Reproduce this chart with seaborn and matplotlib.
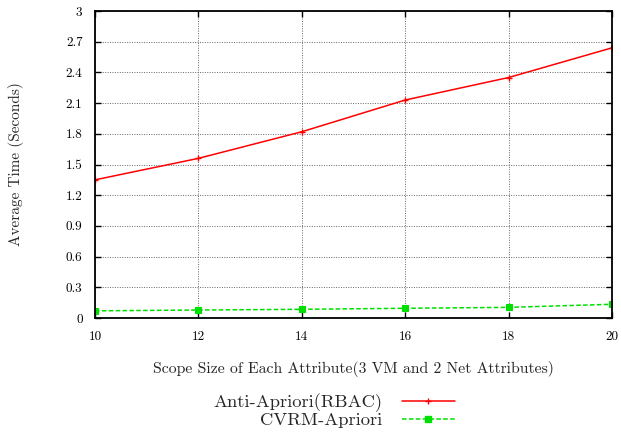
import matplotlib
matplotlib.use("Agg")
import matplotlib.pyplot as plt
import seaborn as sns
from matplotlib.lines import Line2D

scope_sizes = [10, 12, 14, 16, 18, 20]
anti_apriori = [1.35, 1.56, 1.82, 2.13, 2.35, 2.64]
cvrm_apriori = [0.07, 0.078, 0.085, 0.095, 0.104, 0.134]
series_names = ["Anti-Apriori(RBAC)", "CVRM-Apriori"]
y_ticks = [0, 0.3, 0.6, 0.9, 1.2, 1.5, 1.8, 2.1, 2.4, 2.7, 3]
y_tick_labels = ["0", "0.3", "0.6", "0.9", "1.2", "1.5", "1.8", "2.1", "2.4", "2.7", "3"]

sns.set_theme(style="white")
plt.rcParams["font.family"] = ["cmr10", "DejaVu Serif"]
plt.rcParams["axes.formatter.use_mathtext"] = True
plt.rcParams["mathtext.fontset"] = "cm"

fig = plt.figure(figsize=(6.21, 4.38), dpi=100)
ax = fig.add_axes([95 / 621, 1 - 318 / 438, (612 - 95) / 621, (318 - 11) / 438])

red = "#ff0000"
green = "#00e000"
sns.lineplot(x=scope_sizes, y=anti_apriori, color=red, marker="+",
             markersize=5, markeredgewidth=1.0, markeredgecolor=red,
             linewidth=1.1, ax=ax, zorder=3)
sns.lineplot(x=scope_sizes, y=cvrm_apriori, color=green, marker="s",
             markersize=4, markeredgewidth=0.8, markeredgecolor=green,
             markerfacecolor=green, linewidth=1.1,
             linestyle=(0, (3, 1.5)), ax=ax, zorder=3)

ax.set_xlim(10, 20)
ax.set_ylim(0, 3)
ax.set_xticks(scope_sizes)
ax.set_xticklabels([str(v) for v in scope_sizes])
ax.set_yticks(y_ticks)
ax.set_yticklabels(y_tick_labels)
ax.tick_params(axis="both", direction="in", length=4, width=1, labelsize=9.5,
               top=True, right=True, bottom=True, left=True, colors="black", pad=9)
ax.grid(True, color="#666666", linestyle=(0, (1, 1.5)), linewidth=0.7)
ax.set_axisbelow(True)
for s in ax.spines.values():
    s.set_color("black")
    s.set_linewidth(1.3)
    s.set_zorder(4)

ax.set_xlabel("Scope Size of Each Attribute(3 VM and 2 Net Attributes)", fontsize=11.3, labelpad=13)
ax.set_ylabel("Average Time (Seconds)", fontsize=11, labelpad=30)

handles = [
    Line2D([], [], color=red, marker="+", markersize=5, linewidth=1.1),
    Line2D([], [], color=green, marker="s", markersize=4, linestyle=(0, (3, 1.5)), linewidth=1.1),
]
fig.legend(handles, series_names, loc="center", bbox_to_anchor=(334 / 621, 1 - 411 / 438),
           markerfirst=False, frameon=False, fontsize=13.4, handlelength=2.85,
           labelspacing=0.0, handletextpad=1.05, borderpad=0)

fig.savefig("out.png", dpi=100)
